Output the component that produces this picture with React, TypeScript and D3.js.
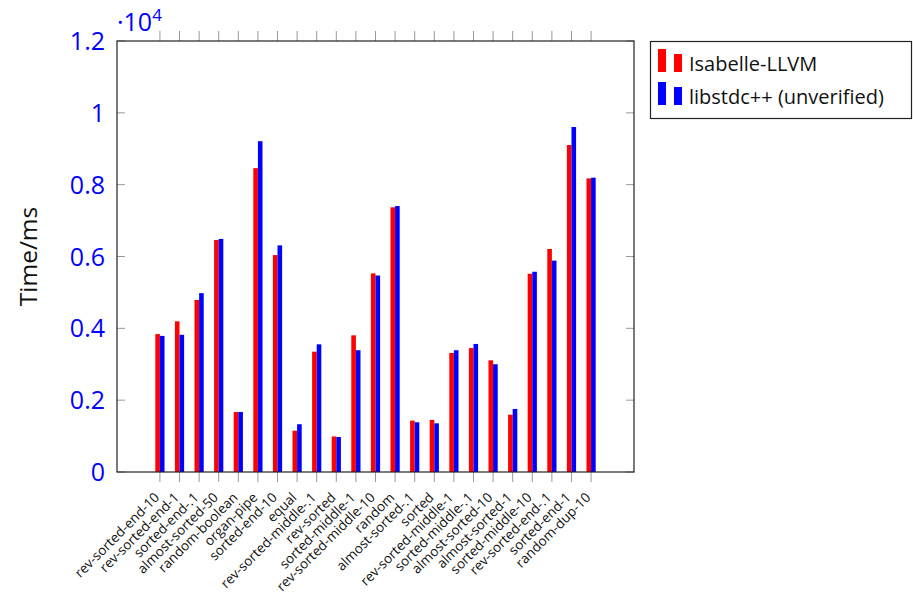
import { scaleLinear, scalePoint } from "d3";

const width = 913;
const height = 595;

const categories = [
  "rev-sorted-end-10",
  "rev-sorted-end-1",
  "sorted-end-.1",
  "almost-sorted-50",
  "random-boolean",
  "organ-pipe",
  "sorted-end-10",
  "equal",
  "rev-sorted-middle-.1",
  "rev-sorted",
  "sorted-middle-1",
  "rev-sorted-middle-10",
  "random",
  "almost-sorted-.1",
  "sorted",
  "rev-sorted-middle-1",
  "sorted-middle-.1",
  "almost-sorted-10",
  "almost-sorted-1",
  "sorted-middle-10",
  "rev-sorted-end-.1",
  "sorted-end-1",
  "random-dup-10",
];

const isabelle = [
  3840, 4195, 4790, 6460, 1670, 8460, 6040, 1150, 3350, 990, 3805, 5530, 7370,
  1430, 1450, 3315, 3450, 3110, 1595, 5520, 6210, 9105, 8175,
];

const libstdcpp = [
  3790, 3820, 4980, 6490, 1670, 9210, 6310, 1330, 3555, 975, 3390, 5470, 7405,
  1385, 1355, 3390, 3565, 3000, 1755, 5575, 5885, 9605, 8195,
];

const yTicks = [0, 2000, 4000, 6000, 8000, 10000, 12000];
const yTickLabels = ["0", "0.2", "0.4", "0.6", "0.8", "1", "1.2"];

const seriesNames = ["Isabelle-LLVM", "libstdc++ (unverified)"];
const seriesColors = ["#ff0000", "#0000ff"];

const left = 117;
const right = 634;
const top = 41;
const bottom = 472;
const barW = 4.6;
const font = "'Open Sans', 'DejaVu Sans', sans-serif";

export default function App() {
  const x = scalePoint<string>().domain(categories).range([left, right]).padding(2.19);
  const y = scaleLinear().domain([0, 12000]).range([bottom, top]);
  const series = [isabelle, libstdcpp];

  return (
    <svg width={width} height={height} style={{ position: "absolute", left: 0, top: 0 }} fontFamily={font}>
      <rect width={width} height={height} fill="white" />
      {/* bars */}
      {series.map((vals, s) =>
        vals.map((v, i) => (
          <rect
            key={`${s}-${i}`}
            x={(x(categories[i]) ?? 0) + (s === 0 ? -barW : 0)}
            y={y(v)}
            width={barW}
            height={bottom - y(v)}
            fill={seriesColors[s]}
          />
        ))
      )}
      {/* x ticks top and bottom */}
      {categories.map((c) => (
        <g key={c} stroke="#999" strokeWidth={1}>
          <line x1={x(c)} x2={x(c)} y1={bottom} y2={bottom + 10} />
          <line x1={x(c)} x2={x(c)} y1={top} y2={top - 10} />
        </g>
      ))}
      {/* y ticks left and right */}
      {yTicks.map((t) => (
        <g key={t} stroke="#999" strokeWidth={1}>
          <line x1={left} x2={left + 8} y1={y(t)} y2={y(t)} />
          <line x1={right} x2={right - 8} y1={y(t)} y2={y(t)} />
        </g>
      ))}
      <rect x={left} y={top} width={right - left} height={bottom - top} fill="none" stroke="#222" strokeWidth={1.2} />
      {/* y labels */}
      {yTicks.map((t, i) => (
        <text key={t} x={105} y={y(t)} dy="0.36em" textAnchor="end" fontSize={25} fill="#0000ff">
          {yTickLabels[i]}
        </text>
      ))}
      <text x={117} y={31} fontSize={25} fill="#0000ff">
        ·10
        <tspan fontSize={17} dy={-10}>4</tspan>
      </text>
      <text transform={`translate(37,${(top + bottom) / 2}) rotate(-90)`} textAnchor="middle" fontSize={24.5} fill="#111">
        Time/ms
      </text>
      {/* x labels */}
      {categories.map((c) => (
        <text
          key={c}
          transform={`translate(${(x(c) ?? 0) - 3},${bottom + 23}) rotate(-45)`}
          textAnchor="end"
          dy="0.35em"
          fontSize={13.5}
          fill="#111"
        >
          {c}
        </text>
      ))}
      {/* legend */}
      <rect x={650.5} y={41.5} width={261} height={77} fill="white" stroke="#222" strokeWidth={1.2} />
      {seriesNames.map((n, s) => {
        const base = s === 0 ? 72 : 105;
        return (
          <g key={n}>
            <rect x={658} y={base - 23} width={8} height={23} fill={seriesColors[s]} />
            <rect x={674} y={base - 18} width={8} height={18} fill={seriesColors[s]} />
            <text x={689} y={base - 1} fontSize={20} fill="#111">
              {n}
            </text>
          </g>
        );
      })}
    </svg>
  );
}
